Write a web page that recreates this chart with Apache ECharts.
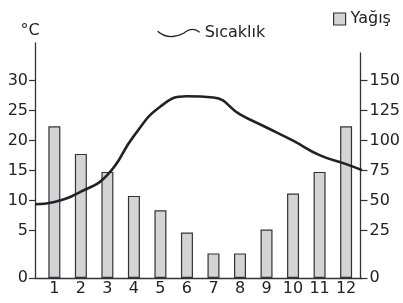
<!DOCTYPE html>
<html>
<head>
<meta charset="utf-8">
<script src="https://cdn.jsdelivr.net/npm/echarts@6/dist/echarts.min.js"></script>
<style>
html,body{margin:0;padding:0;background:#fff;}
#chart{width:403px;height:303px;}
</style>
</head>
<body>
<div id="chart"></div>
<script>
// ---- data ----
const months = [1,2,3,4,5,6,7,8,9,10,11,12];
const precipitation = [112, 89, 74, 54, 42, 24, 13, 13, 26, 56, 74, 112]; // mm (Yağış)
const tempMonth = [0.27, 1, 2, 3, 4, 5, 6, 7, 8, 9, 10, 11, 12, 12.6];
const tempValue = [9.4, 9.8, 11.5, 14.3, 20.8, 25.7, 27.4, 27.2, 24.4, 22.2, 20.0, 17.6, 16.1, 15.1]; // °C (Sıcaklık)
const leftTicks = [0, 5, 10, 15, 20, 25, 30];
const rightTicks = [0, 25, 50, 75, 100, 125, 150];

// ---- axis break: the 0–5 °C (0–25 mm) band is drawn taller than the rest ----
const K = 2.883;
const RATIO = 5; // mm per °C on the two axes
function D(t){ return t >= 5 ? t + K : t * (5 + K) / 5; }
function Dinv(d){ return d >= 5 + K ? d - K : d * 5 / (5 + K); }

const XMIN = 0.27, XMAX = 12.6;
const FONT = 'DejaVu Sans';
const INK = '#222';

const chart = echarts.init(document.getElementById('chart'), null, {renderer:'canvas'});
chart.setOption({
  animation: false,
  backgroundColor: '#fff',
  textStyle: {fontFamily: FONT, color: INK},
  legend: [
    {
      left: 152, top: 20, itemWidth: 42, itemHeight: 10, itemGap: 0,
      selectedMode: false,
      textStyle: {fontFamily: FONT, fontSize: 16, color: INK},
      data: [{
        name: 'Sıcaklık',
        icon: 'path://M0,4 C8,11 16,11 26,6 C31,2 36,0 42,5',
        itemStyle: {color: 'rgba(0,0,0,0)', borderColor: INK, borderWidth: 1.3}
      }]
    },
    {
      left: 328, top: 6, itemWidth: 12, itemHeight: 12, itemGap: 0,
      selectedMode: false,
      textStyle: {fontFamily: FONT, fontSize: 16, color: INK},
      data: [{
        name: 'Yağış', icon: 'rect',
        itemStyle: {color: '#d4d4d6', borderColor: '#333', borderWidth: 1.2}
      }]
    }
  ],
  grid: [
    {left: 35, right: 41, top: 43, bottom: 25},
    {left: 35, right: 41, top: 53, bottom: 25}
  ],
  xAxis: [
    {
      type: 'value', gridIndex: 0, min: XMIN, max: XMAX,
      splitLine: {show: false},
      axisLine: {show: true, onZero: false, lineStyle: {color: '#333', width: 1.3}},
      axisTick: {show: false},
      axisLabel: {
        customValues: months, margin: 3, fontSize: 16, color: INK, fontFamily: FONT,
        formatter: v => String(Math.round(v))
      }
    },
    {
      type: 'value', gridIndex: 1, min: XMIN, max: XMAX, show: false
    }
  ],
  yAxis: [
    {
      type: 'value', gridIndex: 0, position: 'left', min: 0, max: 39.17,
      name: '°C', nameLocation: 'end', nameGap: 4,
      nameTextStyle: {fontSize: 16, color: INK, fontFamily: FONT, align: 'center', padding: [0, 10, 0, 0]},
      splitLine: {show: false},
      axisLine: {show: true, onZero: false, lineStyle: {color: '#333', width: 1.3}},
      axisTick: {show: true, length: 6, customValues: leftTicks.map(D), lineStyle: {color: '#333', width: 1.2}},
      axisLabel: {
        customValues: leftTicks.map(D), margin: 7, fontSize: 16, color: INK, fontFamily: FONT,
        formatter: v => String(Math.round(Dinv(v)))
      }
    },
    {
      type: 'value', gridIndex: 1, position: 'right', min: 0, max: 37.5,
      splitLine: {show: false},
      axisLine: {show: true, onZero: false, lineStyle: {color: '#333', width: 1.3}},
      axisTick: {show: true, length: 7, customValues: rightTicks.map(p => D(p / RATIO)), lineStyle: {color: '#333', width: 1.2}},
      axisLabel: {
        customValues: rightTicks.map(p => D(p / RATIO)), margin: 9, fontSize: 16, color: INK, fontFamily: FONT,
        formatter: v => String(Math.round(Dinv(v) * RATIO))
      }
    }
  ],
  series: [
    {
      name: 'Yağış', type: 'bar', xAxisIndex: 0, yAxisIndex: 0,
      barWidth: 12,
      itemStyle: {color: '#d4d4d6', borderColor: '#333', borderWidth: 1.2},
      data: months.map((m, i) => [m, D(precipitation[i] / RATIO)]),
      z: 2
    },
    {
      name: 'Sıcaklık', type: 'line', xAxisIndex: 0, yAxisIndex: 0,
      smooth: 0.5, symbol: 'none',
      lineStyle: {color: INK, width: 2.6},
      itemStyle: {color: INK},
      data: tempMonth.map((m, i) => [m, D(tempValue[i])]),
      z: 5
    }
  ]
});
</script>
</body>
</html>
